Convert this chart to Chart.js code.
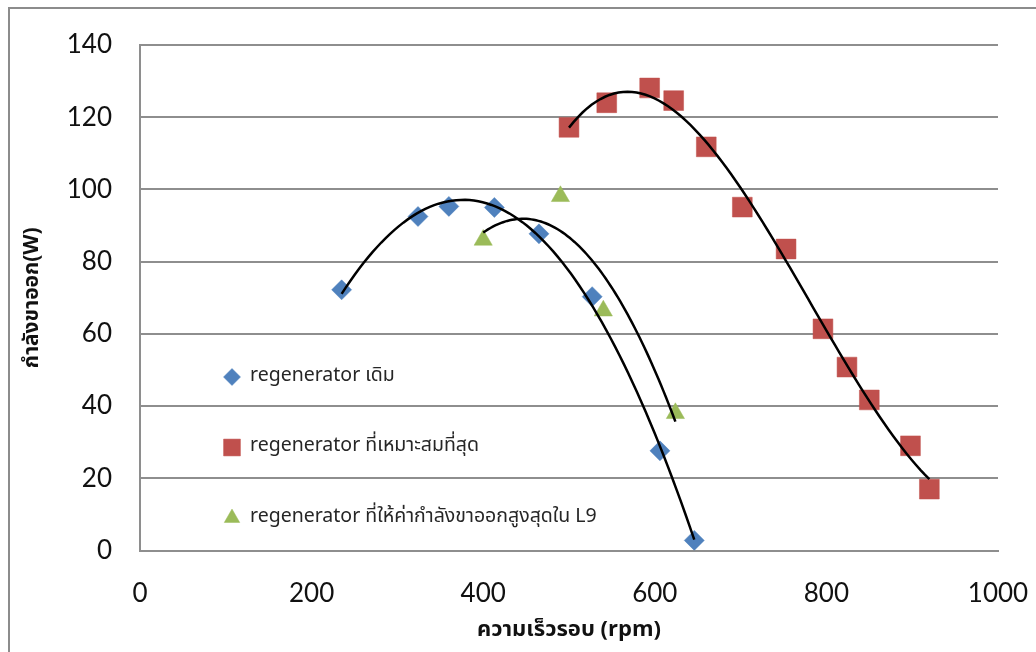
<!DOCTYPE html>
<html>
<head>
<meta charset="utf-8">
<script src="https://cdn.jsdelivr.net/npm/chart.js@4.4.0/dist/chart.umd.min.js"></script>
<style>
  html, body { margin: 0; padding: 0; background: #ffffff; }
  #wrap { width: 1036px; height: 652px; position: relative; }
</style>
</head>
<body>
<div id="wrap"><canvas id="c" width="1036" height="652"></canvas></div>
<script>
// Output power (W) against shaft speed (rpm) for three regenerator configurations
const originalSpeed = [235, 324, 360, 413, 465, 527, 606, 646];
const originalPower = [72.2, 92.5, 95.3, 95.0, 87.7, 70.3, 27.6, 2.8];

const optimalSpeed = [500, 544, 594, 622, 660, 702, 753, 796, 824, 850, 898, 920];
const optimalPower = [117.2, 124.0, 128.1, 124.6, 111.8, 95.1, 83.5, 61.4, 50.8, 41.7, 29.0, 17.0];

const l9Speed = [400, 490, 540, 624];
const l9Power = [86.0, 98.1, 66.4, 38.0];

const seriesLabels = [
  'regenerator เดิม',
  'regenerator ที่เหมาะสมที่สุด',
  'regenerator ที่ให้ค่ากำลังขาออกสูงสุดใน L9'
];
const xTicks = [0, 200, 400, 600, 800, 1000];
const yTicks = [0, 20, 40, 60, 80, 100, 120, 140];
const xTitle = 'ความเร็วรอบ (rpm)';
const yTitle = 'กำลังขาออก(W)';

// least-squares polynomial fit (trendline), evaluated across the data's x-range
function polyFit(xs, ys, order) {
  const cx = 600, sx = 200;
  const n = order + 1;
  const A = Array.from({length: n}, () => new Array(n + 1).fill(0));
  for (let k = 0; k < xs.length; k++) {
    const t = (xs[k] - cx) / sx;
    for (let i = 0; i < n; i++) {
      for (let j = 0; j < n; j++) A[i][j] += Math.pow(t, i + j);
      A[i][n] += ys[k] * Math.pow(t, i);
    }
  }
  for (let i = 0; i < n; i++) {
    let p = i;
    for (let r = i + 1; r < n; r++) if (Math.abs(A[r][i]) > Math.abs(A[p][i])) p = r;
    [A[i], A[p]] = [A[p], A[i]];
    for (let r = 0; r < n; r++) {
      if (r === i) continue;
      const f = A[r][i] / A[i][i];
      for (let c = i; c <= n; c++) A[r][c] -= f * A[i][c];
    }
  }
  const coef = A.map((row, i) => row[n] / row[i]);
  return x => { const t = (x - cx) / sx; return coef.reduce((s, c, i) => s + c * Math.pow(t, i), 0); };
}
function trendPoints(xs, ys, order) {
  const f = polyFit(xs, ys, order);
  const lo = Math.min(...xs), hi = Math.max(...xs);
  const pts = [];
  for (let i = 0; i <= 80; i++) { const x = lo + (hi - lo) * i / 80; pts.push({x, y: f(x)}); }
  return pts;
}
const zip = (xs, ys) => xs.map((x, i) => ({x, y: ys[i]}));

const BLUE = '#4f81bd', RED = '#c0504d', GREEN = '#9bbb59';
const GRID = '#8e8e8e';
const TEXT = '#111111';
const THAI_FONT = '"Noto Sans Thai", "Noto Sans Thai UI", Tahoma, "Noto Sans", "DejaVu Sans", sans-serif';
const TICK_FONT = 'Lato, "Open Sans", "Noto Sans", sans-serif';

const markerStyles = [
  {label: seriesLabels[0], color: BLUE, style: 'rectRot', radius: 10},
  {label: seriesLabels[1], color: RED, style: 'rect', radius: 14},
  {label: seriesLabels[2], color: GREEN, style: 'triangle', radius: 10.5}
];

function trendSet(pts) {
  return {
    type: 'line', data: pts, showLine: true, pointRadius: 0, pointHoverRadius: 0,
    borderColor: '#000000', borderWidth: 2.5, fill: false, tension: 0, order: 0
  };
}
function markerSet(i, pts) {
  const m = markerStyles[i];
  return {
    label: m.label, data: pts, pointStyle: m.style, pointRadius: m.radius,
    backgroundColor: m.color, borderColor: m.color, borderWidth: 0.5,
    showLine: false, order: 1
  };
}

// page frame around the whole figure
const framePlugin = {
  id: 'frame',
  beforeDraw(chart) {
    const ctx = chart.ctx;
    ctx.save();
    ctx.fillStyle = '#ffffff';
    ctx.fillRect(0, 0, chart.width, chart.height);
    ctx.strokeStyle = '#8c8c8c';
    ctx.lineWidth = 2;
    ctx.strokeRect(9, 8, chart.width + 20, chart.height + 20);
    ctx.restore();
  }
};

// legend drawn inside the plot area, lower left
const insideLegend = {
  id: 'insideLegend',
  afterDatasetsDraw(chart) {
    const ctx = chart.ctx;
    const area = chart.chartArea;
    const x0 = area.left + 92, y0 = area.top + 332, gap = 70.5;
    ctx.save();
    markerStyles.forEach((m, i) => {
      const y = y0 + i * gap;
      ctx.fillStyle = m.color;
      ctx.strokeStyle = m.color;
      ctx.lineWidth = 0.5;
      Chart.helpers.drawPoint(ctx, {pointStyle: m.style, radius: m.radius * 0.85, rotation: 0, borderWidth: 0.5}, x0, y);
      ctx.fillStyle = '#262626';
      ctx.font = '19.5px ' + THAI_FONT;
      ctx.textAlign = 'left';
      ctx.textBaseline = 'middle';
      ctx.fillText(m.label, x0 + 18, y);
    });
    ctx.restore();
  }
};

new Chart(document.getElementById('c'), {
  type: 'scatter',
  data: {
    datasets: [
      trendSet(trendPoints(originalSpeed, originalPower, 2)),
      trendSet(trendPoints(optimalSpeed, optimalPower, 3)),
      trendSet(trendPoints(l9Speed, l9Power, 2)),
      markerSet(0, zip(originalSpeed, originalPower)),
      markerSet(1, zip(optimalSpeed, optimalPower)),
      markerSet(2, zip(l9Speed, l9Power))
    ]
  },
  options: {
    responsive: false,
    animation: false,
    devicePixelRatio: 1,
    layout: {padding: {top: 45, right: 38, left: 0, bottom: 0}},
    plugins: {legend: {display: false}, tooltip: {enabled: false}},
    scales: {
      x: {
        type: 'linear', min: 0, max: 1000,
        afterBuildTicks(s) { s.ticks = xTicks.map(v => ({value: v})); },
        afterFit(s) { s.height = 101.5; s.paddingLeft = 0; s.paddingRight = 0; },
        grid: {display: false, drawTicks: false},
        border: {display: true, color: GRID, width: 2},
        ticks: {padding: 28, color: TEXT, font: {family: TICK_FONT, size: 26}, maxRotation: 0,
                callback: v => String(v)},
        title: {display: true, text: xTitle, color: TEXT,
                font: {family: THAI_FONT, size: 22, weight: 'bold'}, padding: {top: 0, bottom: 7}}
      },
      y: {
        type: 'linear', min: 0, max: 140,
        afterBuildTicks(s) { s.ticks = yTicks.map(v => ({value: v})); },
        afterFit(s) { s.width = 140; s.paddingTop = 0; s.paddingBottom = 0; },
        grid: {display: true, drawTicks: false, color: GRID, lineWidth: 2},
        border: {display: true, color: GRID, width: 2},
        ticks: {padding: 28, color: TEXT, font: {family: TICK_FONT, size: 26}, callback: v => String(v)},
        title: {display: true, text: yTitle, color: TEXT,
                font: {family: THAI_FONT, size: 21, weight: 'bold'}, padding: {top: 21, bottom: 0}}
      }
    }
  },
  plugins: [framePlugin, insideLegend]
});
</script>
</body>
</html>
